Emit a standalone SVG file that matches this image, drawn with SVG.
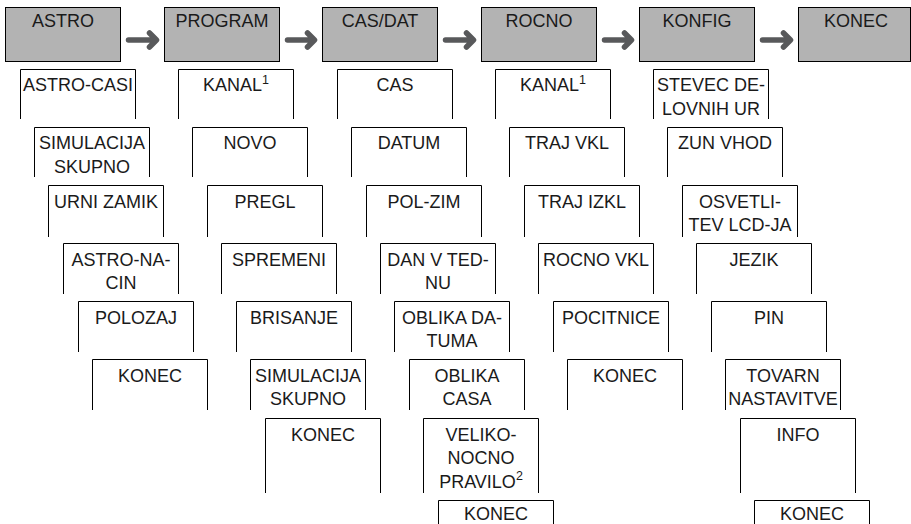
<svg xmlns="http://www.w3.org/2000/svg" width="911" height="524" viewBox="0 0 911 524">
<style>
.hdr{fill:#b3b3b3;stroke:#000;stroke-width:1}
.box{fill:none;stroke:#000;stroke-width:1}
text{font-family:"Liberation Sans",Arial,Helvetica,sans-serif;font-size:18px;fill:#1a1a1a;text-anchor:middle}
.sup{font-size:12.5px}
.arr{fill:none;stroke:#58595b;stroke-width:5.5;stroke-linecap:round;stroke-linejoin:round}
</style>
<rect width="911" height="524" fill="#fff"/>
<g id="connectors">
<path class="arr" d="M128.5,40H155M149.5,33L156.5,40L149.5,47"/>
<path class="arr" d="M287.5,40H313M307.5,33L314.5,40L307.5,47"/>
<path class="arr" d="M445.5,40H472M466.5,33L473.5,40L466.5,47"/>
<path class="arr" d="M604.5,40H630M624.5,33L631.5,40L624.5,47"/>
<path class="arr" d="M762.5,40H789M783.5,33L790.5,40L783.5,47"/>
</g>
<g id="h-astro"><rect class="hdr" x="5.5" y="7.5" width="115" height="54"/><text x="63" y="27">ASTRO</text></g>
<g id="h-program"><rect class="hdr" x="164.5" y="7.5" width="115" height="54"/><text x="222" y="27">PROGRAM</text></g>
<g id="h-casdat"><rect class="hdr" x="322.5" y="7.5" width="115" height="54"/><text x="380" y="27">CAS/DAT</text></g>
<g id="h-rocno"><rect class="hdr" x="481.5" y="7.5" width="115" height="54"/><text x="539" y="27">ROCNO</text></g>
<g id="h-konfig"><rect class="hdr" x="639.5" y="7.5" width="115" height="54"/><text x="697" y="27">KONFIG</text></g>
<g id="h-konec"><rect class="hdr" x="798.5" y="7.5" width="112" height="54"/><text x="856" y="27">KONEC</text></g>

<g id="a1"><path class="box" d="M20.5,119V69.5H135.5V119"/><text x="78" y="91">ASTRO-CASI</text></g>
<g id="a2"><path class="box" d="M34.5,177V127.5H149.5V177"/><text x="92" y="149">SIMULACIJA</text><text x="92" y="172.5">SKUPNO</text></g>
<g id="a3"><path class="box" d="M48.5,237V185.5H163.5V237"/><text x="106" y="207.5">URNI ZAMIK</text></g>
<g id="a4"><path class="box" d="M63.5,294V243.5H178.5V294"/><text x="121" y="265.5">ASTRO-NA-</text><text x="121" y="289">CIN</text></g>
<g id="a5"><path class="box" d="M78.5,352V301.5H193.5V352"/><text x="136" y="323.5">POLOZAJ</text></g>
<g id="a6"><path class="box" d="M92.5,410V359.5H207.5V410"/><text x="150" y="381.5">KONEC</text></g>

<g id="p1"><path class="box" d="M178.5,119V69.5H293.5V119"/><text x="236" y="91">KANAL<tspan class="sup" dy="-7.5">1</tspan></text></g>
<g id="p2"><path class="box" d="M192.5,177V127.5H307.5V177"/><text x="250" y="149">NOVO</text></g>
<g id="p3"><path class="box" d="M207.5,237V185.5H322.5V237"/><text x="265" y="207.5">PREGL</text></g>
<g id="p4"><path class="box" d="M221.5,294V243.5H336.5V294"/><text x="279" y="265.5">SPREMENI</text></g>
<g id="p5"><path class="box" d="M236.5,352V301.5H351.5V352"/><text x="294" y="323.5">BRISANJE</text></g>
<g id="p6"><path class="box" d="M250.5,410V359.5H365.5V410"/><text x="308" y="381.5">SIMULACIJA</text><text x="308" y="405">SKUPNO</text></g>
<g id="p7"><path class="box" d="M265.5,493V418.5H380.5V493"/><text x="323" y="440.5">KONEC</text></g>

<g id="c1"><path class="box" d="M337.5,119V69.5H452.5V119"/><text x="395" y="91">CAS</text></g>
<g id="c2"><path class="box" d="M351.5,177V127.5H466.5V177"/><text x="409" y="149">DATUM</text></g>
<g id="c3"><path class="box" d="M366.5,237V185.5H481.5V237"/><text x="424" y="207.5">POL-ZIM</text></g>
<g id="c4"><path class="box" d="M380.5,294V243.5H495.5V294"/><text x="438" y="265.5">DAN V TED-</text><text x="438" y="289">NU</text></g>
<g id="c5"><path class="box" d="M394.5,352V301.5H509.5V352"/><text x="452" y="323.5">OBLIKA DA-</text><text x="452" y="347">TUMA</text></g>
<g id="c6"><path class="box" d="M409.5,410V359.5H524.5V410"/><text x="467" y="381.5">OBLIKA</text><text x="467" y="405">CASA</text></g>
<g id="c7"><path class="box" d="M423.5,493V418.5H538.5V493"/><text x="481" y="440.5">VELIKO-</text><text x="481" y="464">NOCNO</text><text x="481" y="487.5">PRAVILO<tspan class="sup" dy="-7.5">2</tspan></text></g>
<g id="c8"><path class="box" d="M438.5,530V500.5H553.5V530"/><text x="496" y="520">KONEC</text></g>

<g id="r1"><path class="box" d="M495.5,119V69.5H610.5V119"/><text x="553" y="91">KANAL<tspan class="sup" dy="-7.5">1</tspan></text></g>
<g id="r2"><path class="box" d="M509.5,177V127.5H624.5V177"/><text x="567" y="149">TRAJ VKL</text></g>
<g id="r3"><path class="box" d="M524.5,237V185.5H639.5V237"/><text x="582" y="207.5">TRAJ IZKL</text></g>
<g id="r4"><path class="box" d="M538.5,294V243.5H653.5V294"/><text x="596" y="265.5">ROCNO VKL</text></g>
<g id="r5"><path class="box" d="M553.5,352V301.5H668.5V352"/><text x="611" y="323.5">POCITNICE</text></g>
<g id="r6"><path class="box" d="M567.5,410V359.5H682.5V410"/><text x="625" y="381.5">KONEC</text></g>

<g id="k1"><path class="box" d="M653.5,119V69.5H768.5V119"/><text x="711" y="91">STEVEC DE-</text><text x="711" y="114.5">LOVNIH UR</text></g>
<g id="k2"><path class="box" d="M667.5,177V127.5H782.5V177"/><text x="725" y="149">ZUN VHOD</text></g>
<g id="k3"><path class="box" d="M682.5,237V185.5H797.5V237"/><text x="740" y="207.5">OSVETLI-</text><text x="740" y="231">TEV LCD-JA</text></g>
<g id="k4"><path class="box" d="M696.5,294V243.5H811.5V294"/><text x="754" y="265.5">JEZIK</text></g>
<g id="k5"><path class="box" d="M711.5,352V301.5H826.5V352"/><text x="769" y="323.5">PIN</text></g>
<g id="k6"><path class="box" d="M725.5,410V359.5H840.5V410"/><text x="783" y="381.5">TOVARN</text><text x="783" y="405">NASTAVITVE</text></g>
<g id="k7"><path class="box" d="M740.5,493V418.5H855.5V493"/><text x="798" y="440.5">INFO</text></g>
<g id="k8"><path class="box" d="M754.5,530V500.5H869.5V530"/><text x="812" y="520">KONEC</text></g>
</svg>
